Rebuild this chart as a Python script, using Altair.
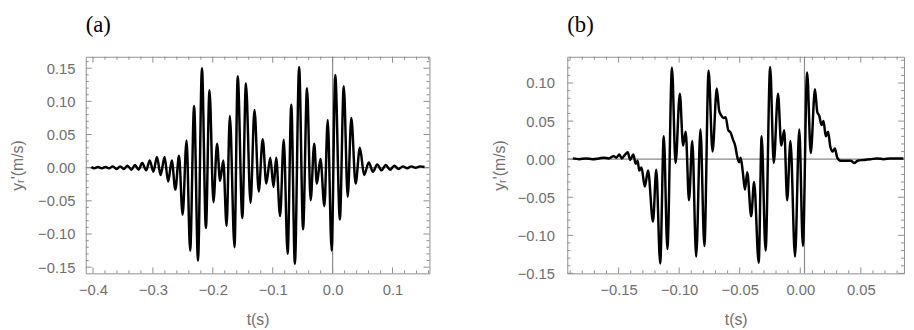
import altair as alt
import pandas as pd

# ---------------- data ----------------
# panel (a)
ta = [-0.4027, -0.3978, -0.3918, -0.3852, -0.3792, -0.3732, -0.3671, -0.3605, -0.3545, -0.3485,
      -0.3425, -0.3359, -0.3299, -0.3238, -0.3178, -0.3112, -0.3052, -0.2992, -0.2932, -0.2871,
      -0.2805, -0.2745, -0.2685, -0.2625, -0.2564, -0.2504, -0.2438, -0.2378, -0.2312, -0.2247,
      -0.2181, -0.2115, -0.2055, -0.1989, -0.1929, -0.1879, -0.1825, -0.1770, -0.1715, -0.1638,
      -0.1584, -0.1507, -0.1447, -0.1370, -0.1304, -0.1233, -0.1167, -0.1107, -0.1041, -0.0986,
      -0.0942, -0.0877, -0.0816, -0.0751, -0.0690, -0.0630, -0.0559, -0.0493, -0.0427, -0.0367,
      -0.0307, -0.0263, -0.0203, -0.0137, -0.0082, -0.0016, 0.0044, 0.0121, 0.0186, 0.0252,
      0.0312, 0.0384, 0.0455, 0.0526, 0.0603, 0.0674, 0.0745, 0.0816, 0.0888, 0.0959,
      0.1030, 0.1101, 0.1173, 0.1244, 0.1315, 0.1386, 0.1458, 0.1534]
ya = [0.001, -0.001, 0.001, -0.001, 0.001, -0.001, 0.002, -0.002, 0.002, -0.002,
      0.003, -0.003, 0.004, -0.003, 0.007, -0.004, 0.011, -0.006, 0.016, -0.011,
      0.016, -0.021, 0.011, -0.033, 0.018, -0.071, 0.041, -0.125, 0.093, -0.140,
      0.150, -0.091, 0.117, -0.052, 0.036, -0.020, 0.011, -0.088, 0.078, -0.120,
      0.138, -0.076, 0.127, -0.053, 0.087, -0.036, 0.043, -0.024, 0.015, -0.029,
      0.015, -0.073, 0.042, -0.130, 0.095, -0.145, 0.152, -0.093, 0.120, -0.049,
      0.036, -0.024, 0.013, -0.058, 0.072, -0.125, 0.140, -0.078, 0.123, -0.044,
      0.075, -0.024, 0.030, -0.011, 0.008, -0.006, 0.005, -0.004, 0.004, -0.003,
      0.003, -0.002, 0.002, -0.001, 0.002, 0.000, 0.002, 0.001]

# panel (b)
tb = [-0.18784, -0.18243, -0.17703, -0.17162, -0.16622, -0.16216, -0.15811, -0.15405, -0.15189, -0.14946,
      -0.14730, -0.14514, -0.14243, -0.14054, -0.13784, -0.13595, -0.13432, -0.13297, -0.13108, -0.12838,
      -0.12568, -0.12162, -0.11892, -0.11568, -0.11270, -0.10973, -0.10595, -0.10297, -0.09946, -0.09676,
      -0.09459, -0.09189, -0.08919, -0.08595, -0.08243, -0.07919, -0.07568, -0.07243, -0.06892, -0.06703,
      -0.06541, -0.06351, -0.06162, -0.05946, -0.05757, -0.05541, -0.05378, -0.05189, -0.05054, -0.04919,
      -0.04730, -0.04568, -0.04378, -0.04054, -0.03811, -0.03432, -0.03189, -0.02865, -0.02486, -0.02189,
      -0.01838, -0.01568, -0.01324, -0.01081, -0.00811, -0.00432, -0.00081, 0.00216, 0.00568, 0.00865,
      0.01216, 0.01405, 0.01568, 0.01757, 0.01919, 0.02108, 0.02297, 0.02486, 0.02676, 0.02865,
      0.03054, 0.03324, 0.03784, 0.04189, 0.04459, 0.04730, 0.05270, 0.05811, 0.06351, 0.06892,
      0.07432, 0.07973, 0.08514]
yb = [0.001, 0.000, 0.001, 0.000, 0.001, 0.002, 0.001, 0.004, 0.002, 0.006,
      0.001, 0.005, 0.009, -0.001, 0.006, -0.006, -0.002, -0.015, -0.011, -0.036,
      -0.015, -0.082, -0.014, -0.137, 0.030, -0.118, 0.120, -0.005, 0.086, 0.018,
      0.036, -0.054, 0.024, -0.128, 0.039, -0.114, 0.116, 0.010, 0.093, 0.064,
      0.058, 0.054, 0.055, 0.038, 0.035, 0.025, 0.018, 0.002, -0.004, 0.002,
      -0.019, -0.040, -0.017, -0.075, -0.030, -0.136, 0.030, -0.120, 0.121, -0.005,
      0.086, 0.018, 0.038, -0.054, 0.024, -0.128, 0.039, -0.114, 0.114, 0.008,
      0.092, 0.062, 0.057, 0.045, 0.050, 0.030, 0.036, 0.016, 0.010, 0.014,
      0.002, -0.002, -0.002, -0.002, -0.005, -0.002, -0.001, 0.000, 0.001, 0.000,
      0.001, 0.001, 0.001]

# axis ticks / reference lines
a_xmajor = [-0.4, -0.3, -0.2, -0.1, 0.0, 0.1]
a_xminor = [-0.38, -0.36, -0.34, -0.32, -0.28, -0.26, -0.24, -0.22, -0.18, -0.16, -0.14, -0.12,
            -0.08, -0.06, -0.04, -0.02, 0.02, 0.04, 0.06, 0.08, 0.12, 0.14, 0.16]
a_ymajor = [-0.15, -0.10, -0.05, 0.0, 0.05, 0.10, 0.15]
a_yminor = [-0.14, -0.13, -0.12, -0.11, -0.09, -0.08, -0.07, -0.06, -0.04, -0.03, -0.02, -0.01,
            0.01, 0.02, 0.03, 0.04, 0.06, 0.07, 0.08, 0.09, 0.11, 0.12, 0.13, 0.14, 0.16]
a_vline = [0.0]

b_xmajor = [-0.15, -0.10, -0.05, 0.0, 0.05]
b_xminor = [-0.19, -0.18, -0.17, -0.16, -0.14, -0.13, -0.12, -0.11, -0.09, -0.08, -0.07, -0.06,
            -0.04, -0.03, -0.02, -0.01, 0.01, 0.02, 0.03, 0.04, 0.06, 0.07, 0.08]
b_ymajor = [-0.15, -0.10, -0.05, 0.0, 0.05, 0.10]
b_yminor = [-0.14, -0.13, -0.12, -0.11, -0.09, -0.08, -0.07, -0.06, -0.04, -0.03, -0.02, -0.01,
            0.01, 0.02, 0.03, 0.04, 0.06, 0.07, 0.08, 0.09, 0.11, 0.12, 0.13]
b_vline = [0.0035]

GRAY = "#8f8f8f"
ZGRAY = "#8a8a8a"
YTITLE = "yᵣ'(m/s)"


def panel(t, y, xdom, ydom, xmaj, xmin_, ymaj, ymin_, vline, xfmt, W, H, label,
          ylp, ytp):
    xs = alt.Scale(domain=xdom, nice=False, zero=False)
    ys = alt.Scale(domain=ydom, nice=False, zero=False)
    xax = alt.Axis(values=xmaj, format=xfmt, title="t(s)", labelPadding=9,
                   titlePadding=15, labelFlush=False, labelOverlap=False)
    yax = alt.Axis(values=ymaj, format=".2f", title=YTITLE, labelPadding=ylp,
                   titlePadding=ytp, labelFlush=False, labelOverlap=False)
    X = lambda: alt.X("t:Q", scale=xs, axis=xax)
    Y = lambda: alt.Y("v:Q", scale=ys, axis=yax)
    df = pd.DataFrame({"t": t, "v": y})

    def xt(vals, top, L):
        d = pd.DataFrame({"t": vals})
        if top:
            return alt.Chart(d).mark_rule(color=GRAY).encode(
                x=X(), y=alt.value(0), y2=alt.value(L))
        return alt.Chart(d).mark_rule(color=GRAY).encode(
            x=X(), y=alt.value(H), y2=alt.value(H - L))

    def yt(vals, right, L):
        d = pd.DataFrame({"v": vals})
        if right:
            return alt.Chart(d).mark_rule(color=GRAY).encode(
                y=Y(), x=alt.value(W), x2=alt.value(W - L))
        return alt.Chart(d).mark_rule(color=GRAY).encode(
            y=Y(), x=alt.value(0), x2=alt.value(L))

    hz = alt.Chart(pd.DataFrame({"v": [0.0]})).mark_rule(color=ZGRAY, strokeWidth=1.2).encode(y=Y())
    vz = alt.Chart(pd.DataFrame({"t": vline})).mark_rule(color=ZGRAY, strokeWidth=1.2).encode(x=X())

    line = alt.Chart(df).mark_line(color="black", strokeWidth=2.5, clip=True,
                                   interpolate="monotone").encode(x=X(), y=Y())

    layers = [hz, vz,
              xt(xmaj, False, 6), xt(xmin_, False, 3), xt(xmaj, True, 6), xt(xmin_, True, 3),
              yt(ymaj, False, 6), yt(ymin_, False, 3), yt(ymaj, True, 6), yt(ymin_, True, 3),
              line]
    return alt.layer(*layers).properties(
        width=W, height=H,
        title=alt.TitleParams(label, anchor="start", frame="group", baseline="alphabetic",
                              offset=2, font="Liberation Serif", fontSize=23, color="black",
                              fontWeight="normal"))


pa = panel(ta, ya, [-0.412, 0.1616], [-0.1594, 0.1673], a_xmajor, a_xminor, a_ymajor, a_yminor,
           a_vline, ".1f", 349, 220, "(a)", 11, 12)
pb = panel(tb, yb, [-0.1924, 0.0857], [-0.15, 0.1345], b_xmajor, b_xminor, b_ymajor, b_yminor,
           b_vline, ".2f", 342, 220, "(b)", 13, 10)

chart = alt.hconcat(pa, pb, spacing=60).properties(
    padding={"left": 1, "top": 2, "right": 0, "bottom": 0}
).configure_view(stroke=GRAY, strokeWidth=1).configure_axis(
    labelFont="Liberation Sans", labelFontSize=15, labelColor="#707070",
    titleFont="Liberation Sans", titleFontSize=16, titleColor="#707070",
    titleFontWeight="normal", ticks=False, domain=False, grid=False
)

chart.save("out.html", embed_options={"renderer": "svg", "actions": False})
